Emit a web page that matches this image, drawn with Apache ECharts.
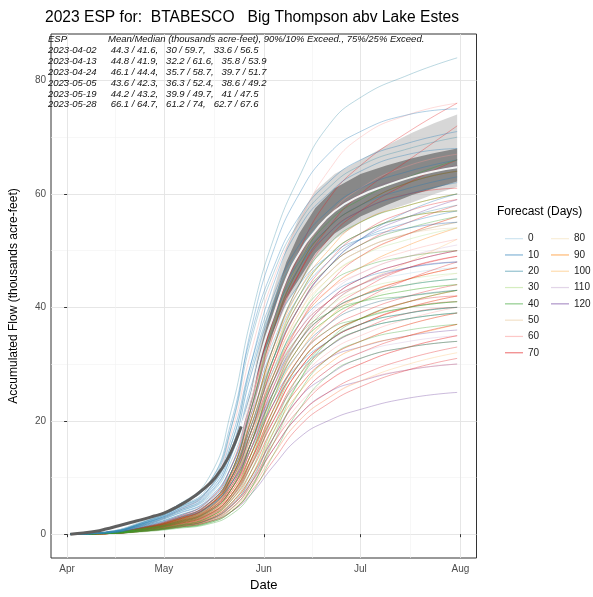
<!DOCTYPE html>
<html><head><meta charset="utf-8">
<script src="https://cdn.jsdelivr.net/npm/echarts@6/dist/echarts.min.js"></script>
<style>html,body{margin:0;padding:0;background:#fff}#c{width:593px;height:597px}</style>
</head><body><div id="c"></div>
<script>
// x values are days after 2023-04-01
const monthTicks = [0, 30, 61, 91, 122];
const monthLabels = ['Apr', 'May', 'Jun', 'Jul', 'Aug'];
const monthMinor = [15, 45.5, 76, 106.5];
const yTicks = [0, 20, 40, 60, 80];
const yMinor = [10, 30, 50, 70];

const obsDays = [1, 5, 9, 12, 16, 20, 24, 27, 30, 34, 38, 42, 46, 50, 54];
const obsVals = [0, 0.2, 0.5, 0.9, 1.5, 2.1, 2.7, 3.2, 3.7, 4.8, 6.1, 7.8, 10, 13.5, 19];

const bandDays = [54, 57, 59, 61, 64, 68, 72, 77, 83, 91, 99, 107, 114, 121];
const p10 = [19, 23, 27, 31, 35, 40.5, 44, 48.5, 52, 55, 57, 58.5, 60, 61.2];
const p25 = [19, 23.5, 28, 32, 36, 41.5, 45, 49.5, 53, 56, 58, 59.8, 61, 62.2];
const p50 = [19, 24.2, 29.2, 33.5, 38.5, 45, 49.5, 53.5, 57, 59.7, 61.5, 63, 64, 64.7];
const p75 = [19, 25, 30.5, 35, 41, 48, 53, 57.5, 61, 63.5, 65, 66.3, 67.2, 68];
const p90 = [19, 25.5, 31.5, 36.5, 43, 50.5, 56, 60.5, 63.5, 66, 68.5, 70.8, 72.5, 74];

const traceDays = [1, 12, 23, 34, 44, 51, 57, 64, 72, 81, 91, 106, 121];
const groupNames = ['0','10','20','30','40','50','60','70','80','90','100','110','120'];
const groupColors = ['#a6cee3','#1f78b4','#3d8fa8','#b2df8a','#33a02c','#e8c99a','#fb9a99','#e31a1c','#f2e0b8','#ff7f00','#fdbf6f','#cab2d6','#6a3d9a'];

const traceGroup = [
 '120','120','120','120','120','120','120','110','110','110',
 '100','100','100','100','100','90','90','90','90','90','90','90',
 '80','80','50','50','30','30','30','0','0','0',
 '60','60','60','60','60','60','60','60',
 '70','70','70','70','70','70','70','70','70','70','70','70','70','70',
 '70','70','70','70','70','70','70','70','70','70',
 '40','40','40','40','40','40','40','40','40','40','40',
 '40','40','40','40','40',
 '10','10','10','10','10','10','10','10','10','10','10','10','10',
 '20','20','20','20','20'
];
const traceValues = [
 [0,0.1,0.5,1.2,2.2,4,7,12,17,20,22,24,25],
 [0,0.1,0.6,1.4,2.6,5,9,15,21,25,27,29,30],
 [0,0.2,0.9,2,4,8,15,25,34,40,44,47,48],
 [0,0.2,1,2.4,4.6,9.5,18,30,40,47,52,56,59],
 [0,0.1,0.7,1.7,3.3,6.5,12,20,27,31,33,35,36],
 [0,0.2,0.9,2.1,4,8,15,26,35,41,45,48,50],
 [0,0.1,0.6,1.4,2.6,5.2,9.5,17,24,28,31,33,34],
 [0,0.1,0.6,1.5,2.8,5.5,10,17,24,29,32,34,35],
 [0,0.2,0.9,2.2,4.2,8.5,16,27,36,42,46,49,51],
 [0,0.2,1,2.4,4.6,9.5,18,30,40,47,51,54,55],
 [0,0.2,0.9,2.1,4,8,15,25,34,40,44,48,52],
 [0,0.1,0.7,1.6,3,6,11,19,26,31,34,37,39],
 [0,0.1,0.5,1.2,2.2,4.2,8,14,20,24,27,30,32],
 [0,0.2,1,2.3,4.4,9,17,29,39,45,49,53,56],
 [0,0.1,0.7,1.7,3.2,6.5,12,21,29,34,37,40,42],
 [0,0.2,0.9,2.2,4.3,9,17,28,37,43,47,51,54],
 [0,0.2,1,2.5,5,10,20,32,42,49,53,56,57],
 [0,0.1,0.8,1.8,3.5,7,13,22,30,35,38,41,43],
 [0,0.1,0.6,1.5,2.8,5.5,10,18,25,30,33,35,37],
 [0,0.2,1,2.4,4.6,9.5,18,30,40,46,50,53,55],
 [0,0.1,0.8,1.9,3.7,7.5,14,24,32,38,42,45,47],
 [0,0.2,1.1,2.6,5.1,10.5,20,33,43,50,55,58,60],
 [0,0.2,0.9,2,4,8,15,25,33,38,41,44,46],
 [0,0.1,0.7,1.6,3.1,6.2,12,20,28,33,36,38,39],
 [0,0.1,0.7,1.7,3.3,7,14,24,32,37,40,42,43],
 [0,0.2,1,2.3,4.4,9,17,29,39,46,50,53,54],
 [0,0.1,0.6,1.5,3,6.5,13,24,33,38,41,43,44],
 [0,0.2,0.9,2,4,8,16,28,38,45,49,52,54],
 [0,0.1,0.7,1.7,3.3,7,14,25,35,40,43,45,46],
 [0,0.3,1.8,4.2,7.5,15,28,41,50,56,60,63,65],
 [0,0.2,1.2,2.8,5,10,18,28,36,41,44,46,47],
 [0,0.2,1.3,3,5.4,11,20,31,40,46,50,53,55],
 [0,0.3,1.5,4,8,18,32,45,55,64,70,74,76],
 [0,0.2,1,2.5,5,10,19,30,38,43,46,49,50],
 [0,0.1,0.7,1.7,3.2,6.5,12,20,27,32,35,38,40],
 [0,0.1,0.6,1.3,2.4,4.5,8,14,20,24,27,29,30],
 [0,0.2,1,2.4,4.6,9,17,28,37,43,47,50,52],
 [0,0.1,0.8,1.9,3.6,7,13,22,30,35,38,41,43],
 [0,0.2,1.2,3,6,12,23,37,48,56,61,65,67],
 [0,0.1,0.6,1.4,2.6,5,9,16,23,27,30,33,35],
 [0,0.2,1,2.5,5,10,18,28,36,41,44,47,49],
 [0,0.2,1,2.3,4.5,9,16,26,34,39,42,45,47],
 [0,0.2,0.9,2,4,8,14,23,31,36,39,42,44],
 [0,0.1,0.8,1.8,3.5,7,13,21,29,34,37,40,42],
 [0,0.1,0.7,1.6,3,6,11,19,26,31,34,37,39],
 [0,0.2,1.2,3,6,12,24,38,50,59,65,71,76],
 [0,0.2,1.1,2.8,5.5,11,22,35,46,54,60,66,72],
 [0,0.2,1,2.6,5,10,20,33,44,52,57,62,66],
 [0,0.1,0.6,1.4,2.6,5,9,16,22,27,30,33,35],
 [0,0.1,0.5,1.2,2.2,4,7.5,13,19,23,26,29,31],
 [0,0.2,1,2.4,4.8,9.5,18,30,40,47,51,55,58],
 [0,0.2,1,2.2,4.2,8.5,16,27,37,44,49,53,56],
 [0,0.2,1.1,2.8,5.5,11,23,38,49,56,60,63,65],
 [0,0.2,1.1,2.6,5.2,10.5,21,36,47,54,58,62,64],
 [0,0.2,0.9,2.2,4.3,8.5,16,27,35,41,45,48,50],
 [0,0.2,0.9,2.1,4.1,8,15,25,33,39,43,47,49],
 [0,0.1,0.8,2,3.8,7.5,14,23,31,37,41,45,48],
 [0,0.1,0.8,1.9,3.6,7,13,22,30,35,38,41,42],
 [0,0.1,0.7,1.8,3.4,6.8,12.5,21,29,34,37,40,41],
 [0,0.1,0.7,1.7,3.2,6.4,12,20,28,33,36,39,40],
 [0,0.2,1,2.5,5,10,19,31,41,48,53,57,59],
 [0,0.2,1.1,2.7,5.4,11,22,36,46,53,57,60,61],
 [0,0.1,0.6,1.5,2.8,5.5,10,17,24,29,32,35,37],
 [0,0.1,0.5,1.3,2.4,4.6,8.5,15,21,25,28,31,33],
 [0,0.2,0.8,2,4,8,16,27,35,39,41,42,43],
 [0,0.2,0.7,1.6,3,6,12,22,31,36,38,40,41],
 [0,0.1,0.6,1.4,2.5,5,10,19,28,34,37,39,40],
 [0,0.2,0.9,2.2,4.5,10,20,33,44,51,55,58,60],
 [0,0.1,0.5,1.2,2,4,8,16,25,31,34,36,37],
 [0,0.2,1,2.5,5,11,22,36,47,54,58,62,64],
 [0,0.1,0.6,1.5,3,6.5,13,24,33,38,41,43,44],
 [0,0.2,0.8,1.8,3.5,7,14,25,34,39,42,44,45],
 [0,0.1,0.4,1,1.8,3.5,7,14,22,28,31,33,34],
 [0,0.2,0.9,2.3,4.8,10,19,31,41,47,51,54,56],
 [0,0.2,1.1,2.7,5.4,11,22,37,48,55,59,63,66],
 [0,0.1,0.5,1.2,2.2,4.5,9,18,27,33,36,38,39],
 [0,0.1,0.6,1.4,2.6,5.5,11,21,30,35,38,40,41],
 [0,0.2,0.8,1.9,3.8,8,16,28,38,44,47,49,50],
 [0,0.1,0.5,1.1,2,4,8,17,27,34,38,41,43],
 [0,0.2,0.9,2.1,4.2,9,18,31,42,49,53,56,57],
 [0,0.4,2,5,9,20,35,47,56,62,66,69,71],
 [0,0.4,2,4.5,8,17,30,42,51,57,61,64,66],
 [0,0.3,1.8,4,7,14,26,38,47,53,57,60,62],
 [0,0.3,1.6,3.8,6.5,12,22,33,42,48,52,55,57],
 [0,0.3,1.5,3.5,6,11,19,29,37,42,45,47,48],
 [0,0.2,1.4,3.2,5.5,10,17,25,32,37,40,42,43],
 [0,0.3,1.7,4.2,7.5,15,28,40,48,54,58,61,63],
 [0,0.3,1.5,3.6,6.2,12,21,31,40,47,52,57,60],
 [0,0.2,1.3,3,5,9,16,24,30,34,37,39,40],
 [0,0.3,1.9,4.6,8.5,19,36,50,60,67,71,74,75],
 [0,0.3,1.7,4,7.2,14,25,36,44,49,52,54,55],
 [0,0.3,1.8,4.3,7.8,16,30,44,54,60,64,67,68],
 [0,0.2,1.2,2.8,4.8,9,15,23,29,33,36,38,39],
 [0,0.3,2,5,10,22,38,52,63,72,77,81,84],
 [0,0.4,2.2,5,9,19,34,46,55,61,65,68,70],
 [0,0.3,1.8,4.5,8,16,29,41,50,56,60,63,65],
 [0,0.3,1.6,3.8,6.8,13,23,34,43,49,53,56,58],
 [0,0.2,1.4,3.2,5.8,11,18,27,34,39,42,44,45]
];

const ann1 = ['ESP','2023-04-02','2023-04-13','2023-04-24','2023-05-05','2023-05-19','2023-05-28'];
const ann2 = ['Mean/Median (thousands acre-feet), 90%/10% Exceed., 75%/25% Exceed.',
 ' 44.3 / 41.6,   30 / 59.7,   33.6 / 56.5',
 ' 44.8 / 41.9,   32.2 / 61.6,   35.8 / 53.9',
 ' 46.1 / 44.4,   35.7 / 58.7,   39.7 / 51.7',
 ' 43.6 / 42.3,   36.3 / 52.4,   38.6 / 49.2',
 ' 44.2 / 43.2,   39.9 / 49.7,   41 / 47.5',
 ' 66.1 / 64.7,   61.2 / 74,   62.7 / 67.6'];

function hexA(h, a) {
  const n = parseInt(h.slice(1), 16);
  return 'rgba(' + (n >> 16) + ',' + ((n >> 8) & 255) + ',' + (n & 255) + ',' + a + ')';
}
const zip = (xs, ys) => xs.map((x, i) => [x, ys[i]]);

function band(lo, hi, fill) {
  return {type:'custom', silent:true, z:1, clip:true, data:[[bandDays[0], lo[0]]],
    renderItem: (params, api) => {
      const up = bandDays.map((d, i) => api.coord([d, hi[i]]));
      const dn = bandDays.map((d, i) => api.coord([d, lo[i]])).reverse();
      return {type:'polygon', shape:{points: up.concat(dn)}, style:{fill: fill}};
    }};
}

const series = [];
series.push(band(p10, p90, 'rgba(175,175,175,0.5)'));
series.push(band(p25, p75, 'rgba(110,110,110,0.75)'));

traceValues.forEach((vals, i) => {
  const g = traceGroup[i];
  const col = groupColors[groupNames.indexOf(g)];
  series.push({type:'line', name:g, data: zip(traceDays, vals), symbol:'none', smooth:0.5,
    color: hexA(col, 0.55), lineStyle:{width:0.7, color: hexA(col, 0.5)}, silent:true, z:2});
});
series.push({type:'line', data: zip(bandDays, p50), symbol:'none', smooth:0.5, lineStyle:{width:2, color:'rgba(255,255,255,0.9)'}, silent:true, z:3});
series.push({type:'line', data: zip(obsDays, obsVals), symbol:'none', smooth:0.4, lineStyle:{width:3, color:'#5f5f5f'}, silent:true, z:4});

const chart = echarts.init(document.getElementById('c'), null, {renderer:'canvas'});
const FONT = 'Liberation Sans, Arial, sans-serif';
const annStyle = {fontSize:9.5, fontStyle:'italic', fontWeight:'normal', color:'#111', lineHeight:10.9, fontFamily:FONT};
chart.setOption({
  animation:false,
  backgroundColor:'#fff',
  textStyle:{fontFamily:FONT},
  title:[
    {text:'2023 ESP for:  BTABESCO   Big Thompson abv Lake Estes', left:45, top:10, padding:0, textStyle:{fontSize:15.6, fontWeight:'normal', color:'#000', fontFamily:FONT}},
    {text: ann1.join('\n'), left:48, top:34, padding:0, textStyle:annStyle},
    {text: ann2.join('\n'), left:108, top:34, padding:0, textStyle:annStyle},
    {text:'Forecast (Days)', left:497, top:206, padding:0, textStyle:{fontSize:12, fontWeight:'normal', color:'#000', fontFamily:FONT}}
  ],
  legend:[
    {data: groupNames.slice(0,8), orient:'vertical', left:500, top:228, icon:'rect', itemWidth:18, itemHeight:1.2, itemGap:5, textStyle:{fontSize:10, color:'#222', lineHeight:11.3, fontFamily:FONT}, selectedMode:false},
    {data: groupNames.slice(8), orient:'vertical', left:546, top:228, icon:'rect', itemWidth:18, itemHeight:1.2, itemGap:5, textStyle:{fontSize:10, color:'#222', lineHeight:11.3, fontFamily:FONT}, selectedMode:false}
  ],
  grid:{left:45.5, top:34, right:116.5, bottom:34, show:true, borderColor:'#333', borderWidth:1, backgroundColor:'transparent', containLabel:false},
  xAxis:[
    {type:'value', min:-5, max:127, name:'Date', nameLocation:'middle', nameGap:21, nameTextStyle:{fontSize:13, color:'#000', fontFamily:FONT},
     axisLine:{show:false}, axisTick:{show:true, length:3, lineStyle:{color:'#333'}, customValues: monthTicks},
     axisLabel:{customValues: monthTicks, color:'#4d4d4d', fontSize:10, margin:6, formatter:(v)=>monthLabels[monthTicks.indexOf(v)] || ''},
     splitLine:{show:true, lineStyle:{color:'#e3e3e3', width:0.9}}},
    {type:'value', min:-5, max:127, axisLine:{show:false}, axisTick:{show:false, customValues: monthMinor}, axisLabel:{show:false, customValues: monthMinor},
     splitLine:{show:true, lineStyle:{color:'#f2f2f2', width:0.6}}}
  ],
  yAxis:[
    {type:'value', min:-4.2, max:88.2, name:'Accumulated Flow (thousands acre-feet)', nameLocation:'middle', nameGap:31, nameTextStyle:{fontSize:12, color:'#000', fontFamily:FONT},
     axisLine:{show:false}, axisTick:{show:true, length:3, lineStyle:{color:'#333'}, customValues: yTicks},
     axisLabel:{customValues: yTicks, color:'#4d4d4d', fontSize:10, margin:5},
     splitLine:{show:true, lineStyle:{color:'#e3e3e3', width:0.9}}},
    {type:'value', min:-4.2, max:88.2, axisLine:{show:false}, axisTick:{show:false, customValues: yMinor}, axisLabel:{show:false, customValues: yMinor},
     splitLine:{show:true, lineStyle:{color:'#f2f2f2', width:0.6}}}
  ],
  series: series
});
</script></body></html>
